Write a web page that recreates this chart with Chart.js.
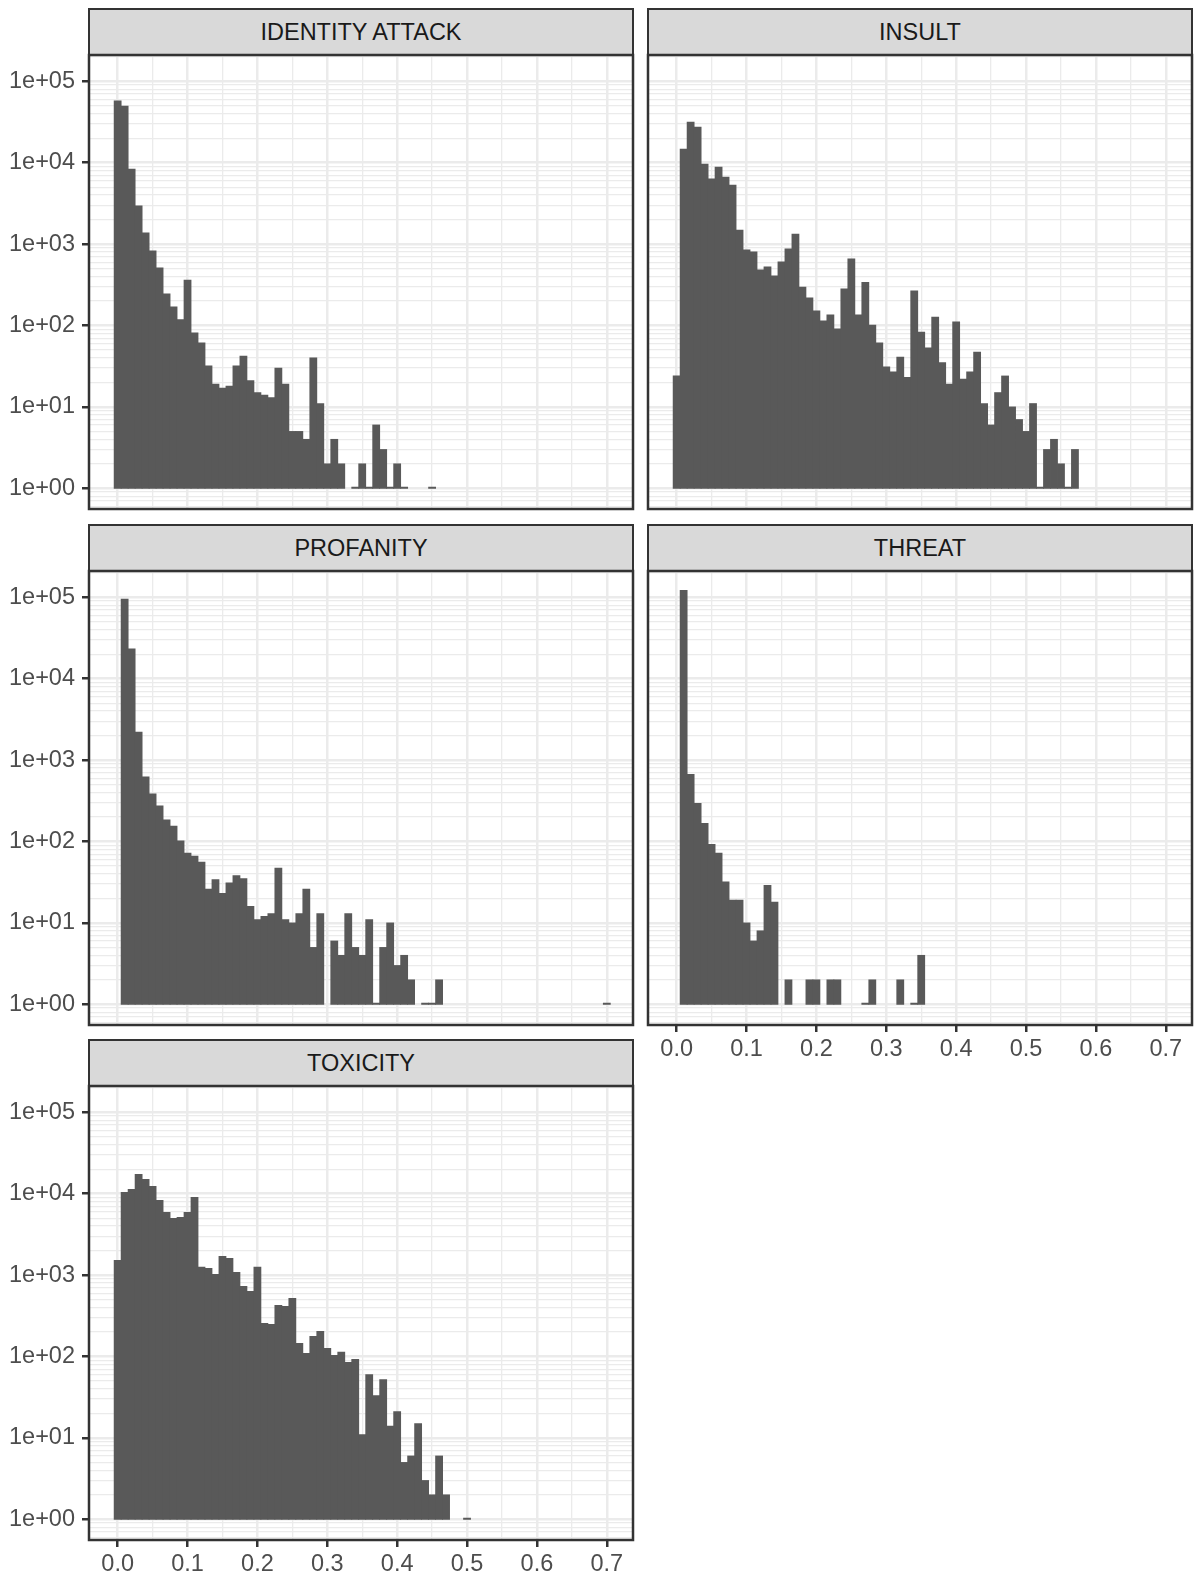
<!DOCTYPE html>
<html>
<head>
<meta charset="utf-8">
<script src="https://cdn.jsdelivr.net/npm/chart.js@4/dist/chart.umd.min.js"></script>
<style>
  html, body { margin: 0; padding: 0; background: #fff; }
  #page { position: relative; width: 1196px; height: 1579px; overflow: hidden; background: #fff;
          font-family: 'Liberation Sans', Arial, Helvetica, sans-serif; }
  .strip { position: absolute; box-sizing: border-box; background: #d9d9d9; border: 2.5px solid #333;
           color: #1a1a1a; font-size: 23.5px; display: flex; align-items: center; justify-content: center; }
  canvas { position: absolute; }
</style>
</head>
<body>
<div id="page"></div>
<script>
// ===== histogram data: one count per 0.01-wide bin, bins centred on binMids =====
const binMids = [
  0.00, 0.01, 0.02, 0.03, 0.04, 0.05, 0.06, 0.07, 0.08, 0.09,
  0.10, 0.11, 0.12, 0.13, 0.14, 0.15, 0.16, 0.17, 0.18, 0.19,
  0.20, 0.21, 0.22, 0.23, 0.24, 0.25, 0.26, 0.27, 0.28, 0.29,
  0.30, 0.31, 0.32, 0.33, 0.34, 0.35, 0.36, 0.37, 0.38, 0.39,
  0.40, 0.41, 0.42, 0.43, 0.44, 0.45, 0.46, 0.47, 0.48, 0.49,
  0.50, 0.51, 0.52, 0.53, 0.54, 0.55, 0.56, 0.57, 0.58, 0.59,
  0.60, 0.61, 0.62, 0.63, 0.64, 0.65, 0.66, 0.67, 0.68, 0.69,
  0.70
];

const identityAttack = [
  57300, 49700, 8370, 2940, 1370, 824, 509, 244, 169, 118,
  361, 81, 61, 32, 19, 17, 18, 32, 42, 21,
  15, 14, 13, 30, 19, 5, 5, 4, 40, 11,
  2, 4, 2, 0, 1, 2, 1, 6, 3, 1,
  2, 1, 0, 0, 0, 1
];
const insult = [
  24, 14700, 31600, 27400, 9640, 6310, 8850, 6670, 5320, 1490,
  847, 801, 481, 524, 406, 603, 871, 1330, 297, 218,
  151, 114, 135, 91, 282, 661, 135, 339, 101, 61,
  31, 27, 41, 23, 266, 83, 53, 127, 35, 19,
  111, 22, 27, 47, 11, 6, 15, 24, 10, 7,
  5, 11, 1, 3, 4, 2, 1, 3
];
const profanity = [
  0, 95300, 23200, 2210, 622, 385, 274, 184, 155, 102,
  72, 66, 56, 26, 34, 23, 31, 38, 35, 16,
  11, 12, 13, 47, 11, 10, 13, 26, 5, 13,
  0, 6, 4, 13, 5, 4, 11, 1, 5, 10,
  3, 4, 2, 0, 1, 1, 2, 0, 0, 0,
  0, 0, 0, 0, 0, 0, 0, 0, 0, 0,
  0, 0, 0, 0, 0, 0, 0, 0, 0, 0,
  1
];
const threat = [
  0, 122000, 670, 295, 167, 92, 72, 32, 19, 19,
  10, 6, 8, 29, 18, 0, 2, 0, 0, 2,
  2, 0, 2, 2, 0, 0, 0, 1, 2, 0,
  0, 0, 2, 0, 1, 4
];
const toxicity = [
  1520, 10400, 11300, 17300, 15000, 12300, 8300, 5900, 4990, 5130,
  5900, 9040, 1250, 1210, 1020, 1700, 1610, 1080, 728, 632,
  1250, 256, 249, 426, 414, 519, 145, 109, 177, 204,
  126, 103, 113, 85, 92, 11, 60, 33, 52, 14,
  21, 5, 6, 15, 3, 2, 6, 2, 0, 0,
  1
];

const facetNames = ['IDENTITY ATTACK', 'INSULT', 'PROFANITY', 'THREAT', 'TOXICITY'];

// axes
const xMajorTicks = [0, 0.1, 0.2, 0.3, 0.4, 0.5, 0.6, 0.7];
const xMajorLabels = ['0.0', '0.1', '0.2', '0.3', '0.4', '0.5', '0.6', '0.7'];
const xMinorTicks = [0.05, 0.15, 0.25, 0.35, 0.45, 0.55, 0.65];
const yMajorTicks = [1, 10, 100, 1000, 10000, 100000];
const yMajorLabels = ['1e+00', '1e+01', '1e+02', '1e+03', '1e+04', '1e+05'];
const yMinorSteps = [2, 3, 4, 5, 6, 7, 8, 9];

// ===== layout / style =====
const X_MIN = -0.041, X_MAX = 0.7375;
const Y_MIN = 0.5577, Y_MAX = 210600;
const COL_X = [89, 648];
const ROW_Y = [55, 571, 1086];
const PANEL_W = 544, PANEL_H = 454, STRIP_H = 46;
const Y_AXIS_W = 89, X_AXIS_H = 40, PAD = 3;
const FONT_SIZE = 23.5;
const BAR = '#595959', GRID = '#ebebeb', AXIS = '#333333', TEXT = '#4d4d4d';

Chart.defaults.font.family = "'Liberation Sans', Arial, Helvetica, sans-serif";

const page = document.getElementById('page');

// y grid: decades plus 2..9 multiples inside the range
const yGrid = [];
[0.1].concat(yMajorTicks).forEach(d => {
    if (d >= Y_MIN && d <= Y_MAX) yGrid.push({ value: d, major: true });
    yMinorSteps.forEach(m => {
        const v = d * m;
        if (v >= Y_MIN && v <= Y_MAX) yGrid.push({ value: v, major: false });
    });
});
yGrid.sort((a, b) => a.value - b.value);

const xGrid = xMajorTicks.map(v => ({ value: v, major: true }))
    .concat(xMinorTicks.map(v => ({ value: v, major: false })))
    .sort((a, b) => a.value - b.value);

const panelBorder = {
    id: 'panelBorder',
    afterDraw(chart) {
        const a = chart.chartArea, ctx = chart.ctx;
        ctx.save();
        ctx.strokeStyle = AXIS;
        ctx.lineWidth = 2.5;
        ctx.strokeRect(a.left, a.top, a.right - a.left, a.bottom - a.top);
        ctx.restore();
    }
};

function isMajor(c) { return !!(c.tick && c.tick.major); }

function makePanel(name, counts, col, row, showY, showX) {
    const left = COL_X[col], top = ROW_Y[row];

    const strip = document.createElement('div');
    strip.className = 'strip';
    strip.textContent = name;
    strip.style.left = (left - 1.25) + 'px';
    strip.style.top = (top - STRIP_H - 1.25) + 'px';
    strip.style.width = (PANEL_W + 2.5) + 'px';
    strip.style.height = (STRIP_H + 2.5) + 'px';
    page.appendChild(strip);

    const yW = showY ? Y_AXIS_W : 0;
    const xH = showX ? X_AXIS_H : 0;
    const w = PAD + yW + PANEL_W + PAD, h = PAD + PANEL_H + xH + PAD;
    const canvas = document.createElement('canvas');
    canvas.width = w; canvas.height = h;
    canvas.style.width = w + 'px'; canvas.style.height = h + 'px';
    canvas.style.left = (left - yW - PAD) + 'px';
    canvas.style.top = (top - PAD) + 'px';
    page.appendChild(canvas);

    const points = [];
    counts.forEach((c, i) => {
        // a bin of 1 has zero height on the log axis; keep it as a hairline
        if (c > 0) points.push({ x: binMids[i], y: [1, c === 1 ? 1.035 : c] });
    });

    new Chart(canvas, {
        type: 'bar',
        data: { datasets: [{ data: points, backgroundColor: BAR, borderWidth: 0,
                             barPercentage: 1, categoryPercentage: 1, inflateAmount: 0.4 }] },
        options: {
            responsive: false, animation: false, devicePixelRatio: 1,
            layout: { padding: PAD },
            plugins: { legend: { display: false }, tooltip: { enabled: false } },
            scales: {
                x: {
                    type: 'linear', min: X_MIN, max: X_MAX, offset: false, bounds: 'data',
                    afterBuildTicks: s => { s.ticks = xGrid.map(t => ({ ...t })); },
                    afterFit: s => { s.height = xH; s.paddingLeft = 0; s.paddingRight = 0; },
                    border: { display: false },
                    grid: { offset: false, color: GRID, lineWidth: c => isMajor(c) ? 2.5 : 1.3,
                            drawTicks: showX, tickLength: 7, tickWidth: 2.5,
                            tickColor: c => isMajor(c) ? AXIS : 'rgba(0,0,0,0)' },
                    ticks: { display: showX, autoSkip: false, maxRotation: 0, padding: 3, color: TEXT,
                             font: { size: FONT_SIZE },
                             callback: v => { const k = xMajorTicks.indexOf(v); return k >= 0 ? xMajorLabels[k] : ''; } }
                },
                y: {
                    type: 'logarithmic', min: Y_MIN, max: Y_MAX, bounds: 'data',
                    afterBuildTicks: s => { s.ticks = yGrid.map(t => ({ ...t })); },
                    afterFit: s => { s.width = yW; s.paddingTop = 0; s.paddingBottom = 0; },
                    border: { display: false },
                    grid: { color: GRID, lineWidth: c => isMajor(c) ? 2.5 : 1.3,
                            drawTicks: showY, tickLength: 7, tickWidth: 2.5,
                            tickColor: c => isMajor(c) ? AXIS : 'rgba(0,0,0,0)' },
                    ticks: { display: showY, autoSkip: false, padding: 7, color: TEXT,
                             font: { size: FONT_SIZE },
                             callback: v => { const k = yMajorTicks.indexOf(v); return k >= 0 ? yMajorLabels[k] : ''; } }
                }
            }
        },
        plugins: [panelBorder]
    });
}

makePanel(facetNames[0], identityAttack, 0, 0, true, false);
makePanel(facetNames[1], insult, 1, 0, false, false);
makePanel(facetNames[2], profanity, 0, 1, true, false);
makePanel(facetNames[3], threat, 1, 1, false, true);
makePanel(facetNames[4], toxicity, 0, 2, true, true);
</script>
</body>
</html>
